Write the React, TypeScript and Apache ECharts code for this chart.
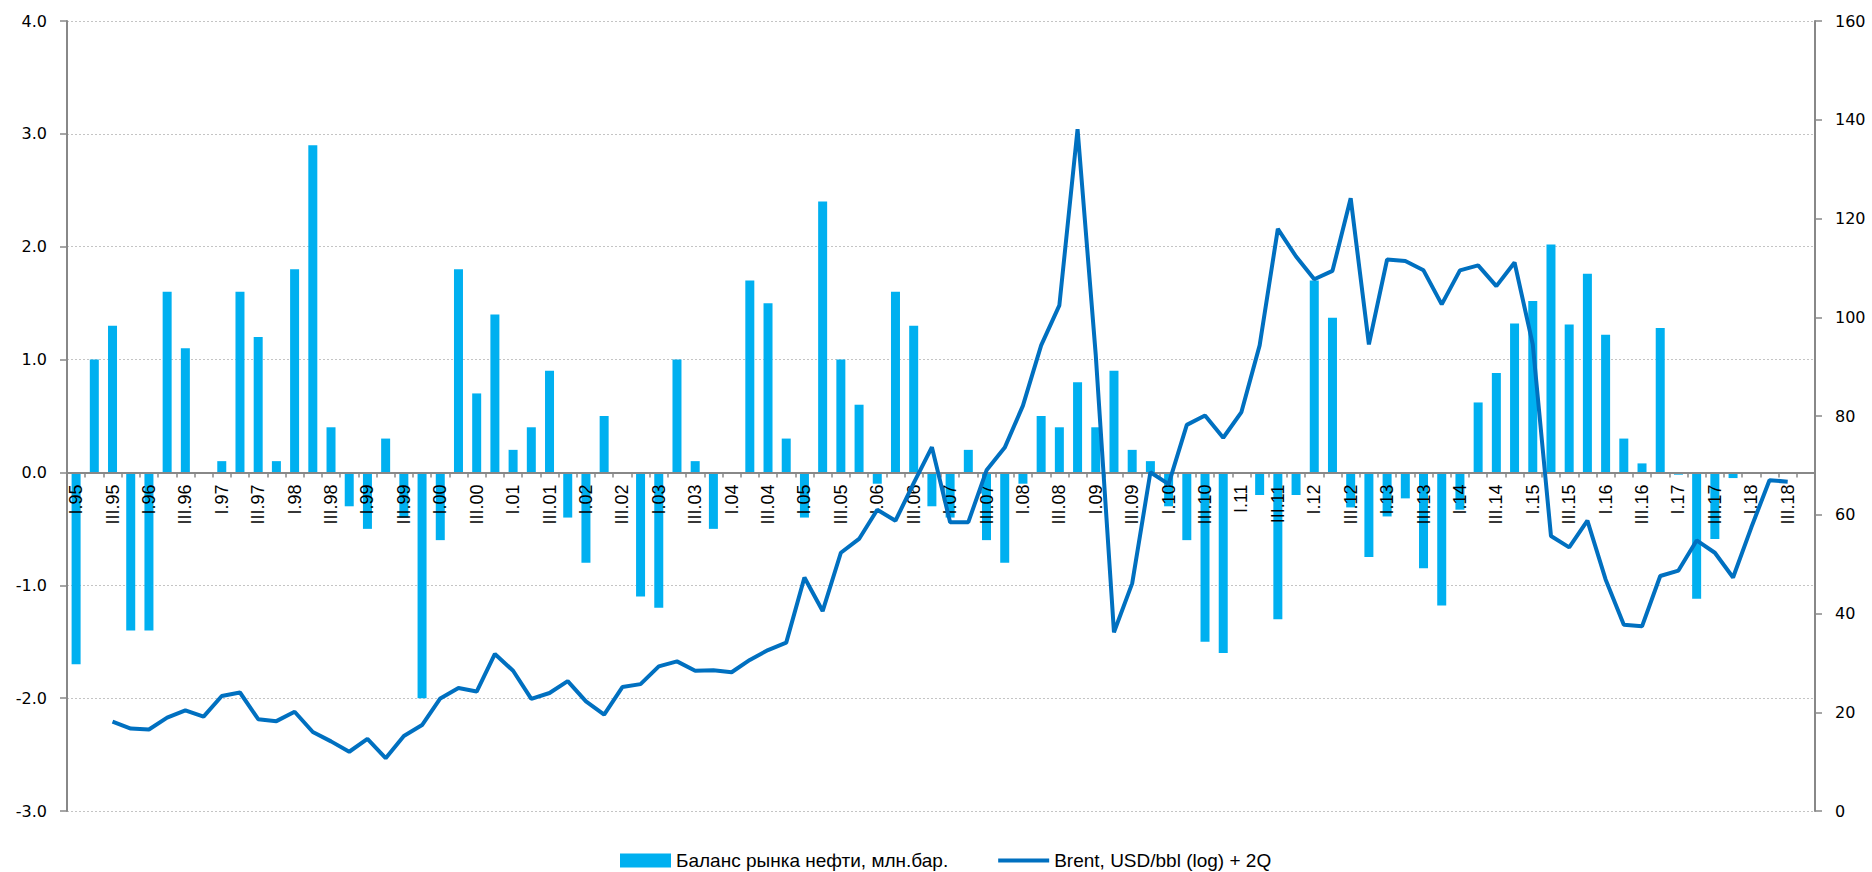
import React, { useEffect, useRef } from "react";
import * as echarts from "echarts";

const years = ["95","96","97","98","99","00","01","02","03","04","05","06","07","08","09","10","11","12","13","14","15","16","17","18"];
const quarters = ["I", "II", "III", "IV"];
const categories: string[] = [];
years.forEach((y) => quarters.forEach((q) => categories.push(q + "." + y)));

const balanceName = "Баланс рынка нефти, млн.бар.";
const brentName = "Brent, USD/bbl (log) + 2Q";

// Oil market balance, mln bbl/day (left axis)
const balance: (number | null)[] = [
  -1.7, 1.0, 1.3, -1.4, -1.4, 1.6, 1.1, 0, 0.1, 1.6, 1.2, 0.1,
  1.8, 2.9, 0.4, -0.3, -0.5, 0.3, -0.4, -2.0, -0.6, 1.8, 0.7, 1.4,
  0.2, 0.4, 0.9, -0.4, -0.8, 0.5, 0, -1.1, -1.2, 1.0, 0.1, -0.5,
  0, 1.7, 1.5, 0.3, -0.4, 2.4, 1.0, 0.6, -0.1, 1.6, 1.3, -0.3,
  -0.4, 0.2, -0.6, -0.8, -0.1, 0.5, 0.4, 0.8, 0.4, 0.9, 0.2, 0.1,
  -0.3, -0.6, -1.5, -1.6, 0, -0.2, -1.3, -0.2, 1.7, 1.37, -0.31, -0.75,
  -0.39, -0.23, -0.85, -1.18, -0.33, 0.62, 0.88, 1.32, 1.52, 2.02, 1.31, 1.76,
  1.22, 0.3, 0.08, 1.28, -0.02, -1.12, -0.59, -0.05, null, null, null, null,
];

// Brent, USD/bbl shifted +2Q (right axis)
const brent: (number | null)[] = [
  null, null, 18.1, 16.7, 16.5, 18.9, 20.4, 19.1, 23.3, 24.0, 18.6, 18.2,
  20.1, 16.0, 14.1, 12.0, 14.6, 10.7, 15.2, 17.4, 22.8, 24.9, 24.2, 31.8,
  28.4, 22.7, 23.9, 26.3, 22.2, 19.5, 25.1, 25.7, 29.3, 30.3, 28.4, 28.5,
  28.1, 30.6, 32.6, 34.1, 47.3, 40.5, 52.3, 55.1, 61.0, 58.8, 66.4, 73.7,
  58.5, 58.5, 69.0, 73.6, 82.1, 94.3, 102.4, 138.1, 92.3, 36.2, 46.1, 68.6,
  66.2, 78.2, 80.1, 75.6, 80.8, 94.3, 117.9, 112.3, 107.7, 109.4, 124.1, 94.5,
  111.7, 111.4, 109.5, 102.6, 109.5, 110.5, 106.3, 111.1, 94.5, 55.7, 53.4, 58.8,
  46.9, 37.7, 37.4, 47.6, 48.7, 54.8, 52.3, 47.3, 57.4, 67.0, 66.7, null,
];

const leftMin = -3;
const leftMax = 4;
const axisGray = "#888888";

// grid geometry
const W = 1872;
const H = 872;
const gridTop = 21;
const gridBottom = 61;
const gridHeight = H - gridTop - gridBottom;
// distance from grid bottom to the zero line of the left axis
const zeroOffset = (gridHeight * (0 - leftMin)) / (leftMax - leftMin);

export default function App() {
  const ref = useRef<HTMLDivElement>(null);
  useEffect(() => {
    if (!ref.current) return;
    const chart = echarts.init(ref.current, null, { renderer: "svg" });
    chart.setOption({
      animation: false,
      backgroundColor: "#ffffff",
      grid: { left: 67, right: 57, top: gridTop, bottom: gridBottom, containLabel: false },
      legend: {
        left: 615,
        top: 846,
        itemWidth: 51,
        itemHeight: 14,
        itemGap: 50,
        symbolKeepAspect: true,
        textStyle: { fontFamily: "Liberation Sans", fontSize: 19, color: "#000" },
        data: [
          { name: balanceName, icon: "rect" },
          { name: brentName, icon: "path://M0 0H51V4H0Z" },
        ],
      },
      xAxis: {
        type: "category",
        data: categories,
        boundaryGap: true,
        position: "bottom",
        offset: -zeroOffset,
        z: 3,
        axisLine: { onZero: false, lineStyle: { color: axisGray, width: 2 } },
        axisTick: { show: true, interval: 0, length: 5, lineStyle: { color: axisGray, width: 1.5 } },
        axisLabel: {
          interval: 1,
          rotate: 90,
          margin: 12,
          fontFamily: "Liberation Sans",
          fontSize: 18,
          color: "#000",
        },
        splitLine: { show: false },
      },
      yAxis: [
        {
          type: "value",
          position: "left",
          min: leftMin,
          max: leftMax,
          interval: 1,
          axisLine: { show: true, lineStyle: { color: axisGray, width: 2 } },
          axisTick: { show: true, length: 7, lineStyle: { color: axisGray, width: 1.5 } },
          axisLabel: {
            margin: 20,
            fontFamily: "DejaVu Sans",
            fontSize: 16,
            color: "#000",
            formatter: (v: number) => v.toFixed(1),
          },
          splitLine: { show: true, lineStyle: { color: "#c4c4c4", width: 1, type: [2, 2] } },
        },
        {
          type: "value",
          position: "right",
          min: 0,
          max: 160,
          interval: 20,
          axisLine: { show: true, lineStyle: { color: axisGray, width: 2 } },
          axisTick: { show: true, length: 7, lineStyle: { color: axisGray, width: 1.5 } },
          axisLabel: {
            margin: 20,
            fontFamily: "DejaVu Sans",
            fontSize: 16,
            color: "#000",
          },
          splitLine: { show: false },
        },
      ],
      series: [
        {
          name: balanceName,
          type: "bar",
          yAxisIndex: 0,
          data: balance,
          barWidth: 9,
          itemStyle: { color: "#00B0F0" },
          z: 2,
        },
        {
          name: brentName,
          type: "line",
          yAxisIndex: 1,
          data: brent,
          symbol: "none",
          showSymbol: false,
          lineStyle: { color: "#0070C0", width: 4 },
          itemStyle: { color: "#0070C0" },
          z: 5,
        },
      ],
    });
    return () => chart.dispose();
  }, []);
  return (
    <div
      ref={ref}
      style={{ position: "absolute", left: 0, top: 0, width: W, height: H }}
    />
  );
}
